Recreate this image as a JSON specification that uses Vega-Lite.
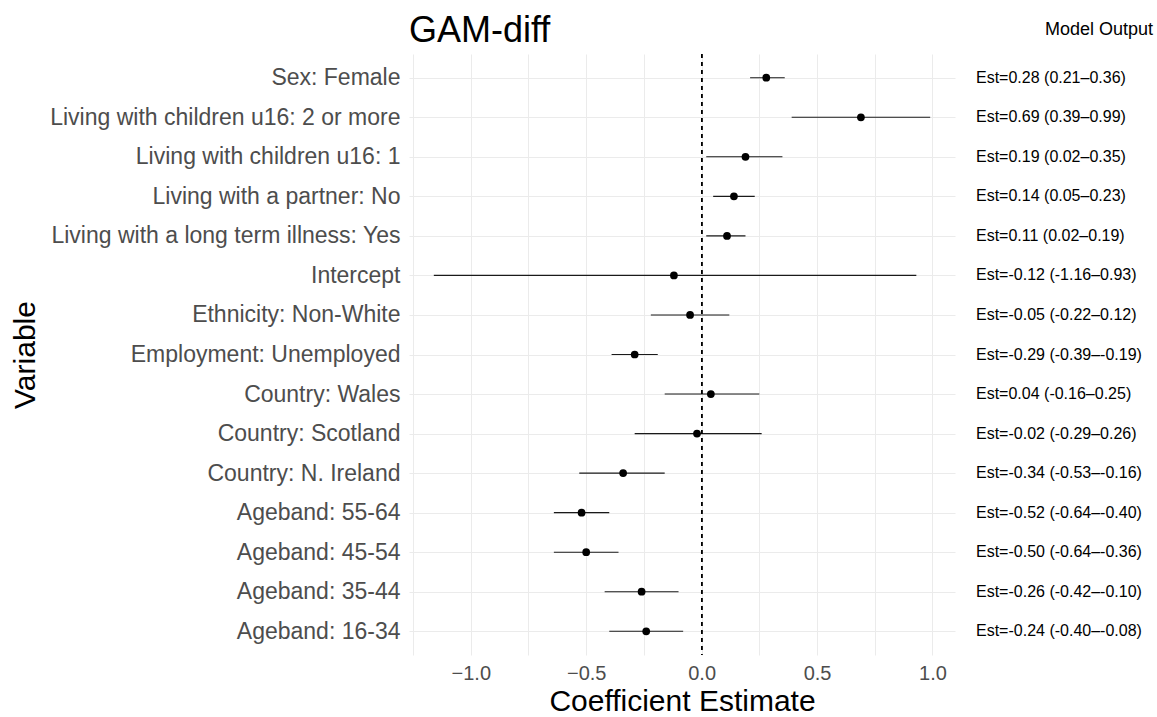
{
  "$schema": "https://vega.github.io/schema/vega-lite/v6.json",
  "background": "white",
  "padding": {"left": 10, "top": 12, "right": 5, "bottom": 5},
  "config": {
    "font": "Liberation Sans",
    "view": {"stroke": null},
    "axis": {
      "domain": false,
      "ticks": false,
      "gridColor": "#ebebeb",
      "gridWidth": 1,
      "labelColor": "#4d4d4d",
      "labelFont": "Liberation Sans",
      "titleFont": "Liberation Sans",
      "titleColor": "black",
      "titleFontWeight": "normal",
      "labelLimit": 600
    }
  },
  "datasets": {
    "coef": [
      {"variable": "Sex: Female", "est": 0.28, "low": 0.21, "high": 0.36, "label": "Est=0.28 (0.21–0.36)"},
      {"variable": "Living with children u16: 2 or more", "est": 0.69, "low": 0.39, "high": 0.99, "label": "Est=0.69 (0.39–0.99)"},
      {"variable": "Living with children u16: 1", "est": 0.19, "low": 0.02, "high": 0.35, "label": "Est=0.19 (0.02–0.35)"},
      {"variable": "Living with a partner: No", "est": 0.14, "low": 0.05, "high": 0.23, "label": "Est=0.14 (0.05–0.23)"},
      {"variable": "Living with a long term illness: Yes", "est": 0.11, "low": 0.02, "high": 0.19, "label": "Est=0.11 (0.02–0.19)"},
      {"variable": "Intercept", "est": -0.12, "low": -1.16, "high": 0.93, "label": "Est=-0.12 (-1.16–0.93)"},
      {"variable": "Ethnicity: Non-White", "est": -0.05, "low": -0.22, "high": 0.12, "label": "Est=-0.05 (-0.22–0.12)"},
      {"variable": "Employment: Unemployed", "est": -0.29, "low": -0.39, "high": -0.19, "label": "Est=-0.29 (-0.39–-0.19)"},
      {"variable": "Country: Wales", "est": 0.04, "low": -0.16, "high": 0.25, "label": "Est=0.04 (-0.16–0.25)"},
      {"variable": "Country: Scotland", "est": -0.02, "low": -0.29, "high": 0.26, "label": "Est=-0.02 (-0.29–0.26)"},
      {"variable": "Country: N. Ireland", "est": -0.34, "low": -0.53, "high": -0.16, "label": "Est=-0.34 (-0.53–-0.16)"},
      {"variable": "Ageband: 55-64", "est": -0.52, "low": -0.64, "high": -0.40, "label": "Est=-0.52 (-0.64–-0.40)"},
      {"variable": "Ageband: 45-54", "est": -0.50, "low": -0.64, "high": -0.36, "label": "Est=-0.50 (-0.64–-0.36)"},
      {"variable": "Ageband: 35-44", "est": -0.26, "low": -0.42, "high": -0.10, "label": "Est=-0.26 (-0.42–-0.10)"},
      {"variable": "Ageband: 16-34", "est": -0.24, "low": -0.40, "high": -0.08, "label": "Est=-0.24 (-0.40–-0.08)"}
    ]
  },
  "data": {"name": "coef"},
  "spacing": 21,
  "resolve": {"scale": {"x": "independent", "y": "independent"}},
  "hconcat": [
    {
      "width": 546,
      "height": 601,
      "title": {"text": "GAM-diff", "anchor": "start", "frame": "group", "fontSize": 36, "fontWeight": "normal", "color": "black", "font": "Liberation Sans", "offset": 4},
      "layer": [
        {
          "mark": {"type": "rule", "color": "#1a1a1a", "size": 1.1},
          "encoding": {
            "x": {"field": "low", "type": "quantitative", "scale": {"domain": [-1.2675, 1.0975], "nice": false, "zero": false},
              "axis": {
                "title": "Coefficient Estimate",
                "values": [-1.25, -1, -0.75, -0.5, -0.25, 0, 0.25, 0.5, 0.75, 1],
                "labelExpr": "abs(datum.value*2 - round(datum.value*2)) < 0.001 ? format(datum.value, '.1f') : ''",
                "labelFontSize": 20,
                "labelPadding": 8,
                "labelOverlap": false,
                "labelFlush": false,
                "titleFontSize": 30,
                "titlePadding": 3,
                "grid": true
              }},
            "x2": {"field": "high"},
            "y": {"field": "variable", "type": "nominal", "sort": null, "scale": {"type": "point", "padding": 0.6},
              "axis": {"title": "Variable", "labelFontSize": 23, "labelPadding": 9, "titleFontSize": 30, "titleX": -369, "grid": true}}
          }
        },
        {
          "mark": {"type": "rule", "color": "black", "strokeDash": [4, 4], "size": 1},
          "encoding": {
            "x": {"datum": 0, "type": "quantitative", "scale": {"domain": [-1.2675, 1.0975], "nice": false, "zero": false}}
          }
        },
        {
          "mark": {"type": "point", "filled": true, "color": "black", "size": 60, "opacity": 1},
          "encoding": {
            "x": {"field": "est", "type": "quantitative", "scale": {"domain": [-1.2675, 1.0975], "nice": false, "zero": false}},
            "y": {"field": "variable", "type": "nominal", "sort": null, "scale": {"type": "point", "padding": 0.6}}
          }
        }
      ]
    },
    {
      "width": 177,
      "height": 601,
      "title": {"text": "Model Output", "anchor": "end", "fontSize": 18, "fontWeight": "normal", "color": "black", "font": "Liberation Sans", "offset": 15},
      "mark": {"type": "text", "align": "left", "baseline": "middle", "fontSize": 16, "color": "black", "font": "Liberation Sans"},
      "encoding": {
        "y": {"field": "variable", "type": "nominal", "sort": null, "scale": {"type": "point", "padding": 0.6}, "axis": null},
        "x": {"datum": 0, "type": "quantitative", "scale": {"domain": [0, 1]}, "axis": null},
        "text": {"field": "label"}
      }
    }
  ]
}
